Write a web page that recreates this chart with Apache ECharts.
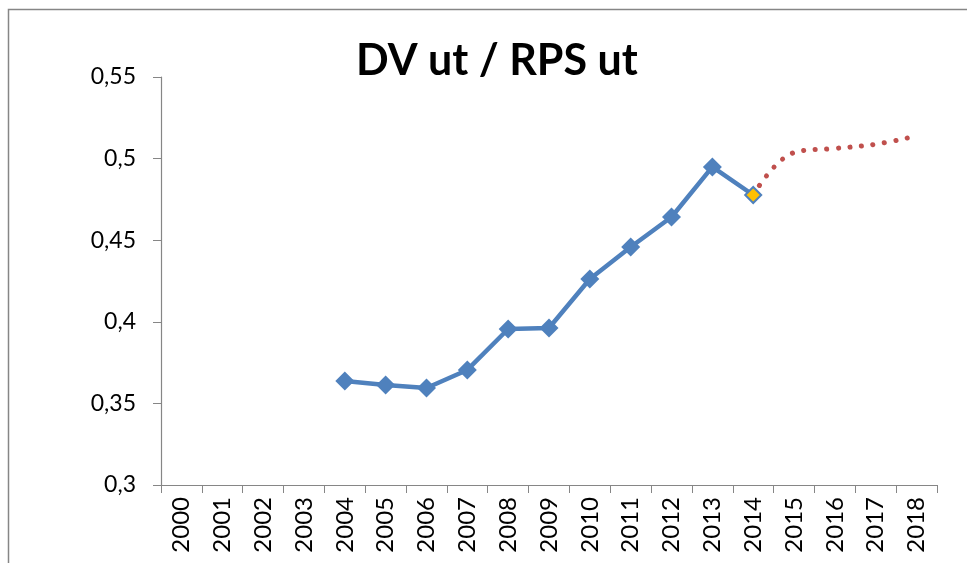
<!DOCTYPE html>
<html>
<head>
<meta charset="utf-8">
<script src="https://cdn.jsdelivr.net/npm/echarts@6/dist/echarts.min.js"></script>
<style>
  html, body { margin: 0; padding: 0; background: #fff; }
  #chart { width: 967px; height: 563px; }
</style>
</head>
<body>
<div id="chart"></div>
<script>
// years on the category axis
const years = ["2000", "2001", "2002", "2003", "2004", "2005", "2006", "2007", "2008", "2009",
  "2010", "2011", "2012", "2013", "2014", "2015", "2016", "2017", "2018"];
// DV ut / RPS ut, actual values (2004 - 2014)
const actual = [null, null, null, null, 0.3637, 0.3613, 0.3594, 0.3705, 0.3956, 0.3962,
  0.4262, 0.4458, 0.4642, 0.4949, 0.4777, null, null, null, null];
// forecast, dotted (2014 - 2018)
const forecast = [null, null, null, null, null, null, null, null, null, null,
  null, null, null, null, 0.4777, 0.5037, 0.5062, 0.5088, 0.5139];
// the last actual point is highlighted
const highlightYear = "2014";
const yTicks = { min: 0.3, max: 0.55, step: 0.05 };

const chart = echarts.init(document.getElementById("chart"));
const axisColor = "#868686";

const option = {
  backgroundColor: "#fff",
  animation: false,
  title: {
    text: "DV ut / RPS ut",
    left: 351,
    top: 35,
    textStyle: { fontFamily: "Lato", fontWeight: "bold", fontSize: 43, color: "#000" }
  },
  graphic: [{
    type: "rect",
    shape: { x: 8.5, y: 9.5, width: 1000, height: 600 },
    style: { fill: "none", stroke: axisColor, lineWidth: 1.5 },
    silent: true
  }],
  grid: { left: 161, right: 30, top: 77, bottom: 78 },
  xAxis: {
    type: "category",
    data: years,
    boundaryGap: true,
    axisLine: { lineStyle: { color: axisColor, width: 1.2 } },
    axisTick: { show: true, interval: 0, length: 8, lineStyle: { color: axisColor } },
    axisLabel: {
      interval: 0,
      rotate: 90,
      margin: 12,
      color: "#000",
      fontFamily: "Lato",
      fontSize: 24
    },
    splitLine: { show: false }
  },
  yAxis: {
    type: "value",
    min: yTicks.min,
    max: yTicks.max,
    interval: yTicks.step,
    axisLine: { show: true, lineStyle: { color: axisColor, width: 1.2 } },
    axisTick: { show: true, length: 8, lineStyle: { color: axisColor } },
    axisLabel: {
      margin: 25,
      color: "#000",
      fontFamily: "Lato",
      fontSize: 23,
      formatter: v => String(+v.toFixed(2)).replace(".", ",")
    },
    splitLine: { show: false }
  },
  series: [
    {
      name: "forecast",
      type: "line",
      data: forecast,
      smooth: 0.4,
      showSymbol: false,
      lineStyle: { color: "#C0504D", width: 5, type: [0.1, 11.5], cap: "round" },
      z: 2
    },
    {
      name: "actual",
      type: "line",
      data: actual.map((v, i) => years[i] === highlightYear && v != null
        ? { value: v, symbolSize: 16, itemStyle: { color: "#FFC000", borderColor: "#4F81BD", borderWidth: 2 } }
        : v),
      symbol: "diamond",
      symbolSize: 19,
      showAllSymbol: true,
      itemStyle: { color: "#4F81BD" },
      lineStyle: { color: "#4F81BD", width: 4.5 },
      z: 3
    }
  ]
};

chart.setOption(option);
</script>
</body>
</html>
